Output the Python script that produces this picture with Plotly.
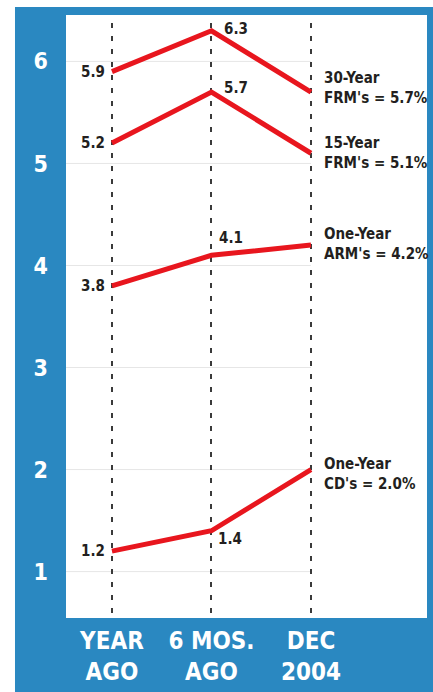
import plotly.graph_objects as go

categories = ["YEAR<br>AGO", "6 MOS.<br>AGO", "DEC<br>2004"]
series_names = ["30-Year<br>FRM's", "15-Year<br>FRM's", "One-Year<br>ARM's", "One-Year<br>CD's"]
frm30 = [5.9, 6.3, 5.7]
frm15 = [5.2, 5.7, 5.1]
arm1 = [3.8, 4.1, 4.2]
cd1 = [1.2, 1.4, 2.0]
y_ticks = [1, 2, 3, 4, 5, 6]

all_series = [frm30, frm15, arm1, cd1]

BLUE = "#2a88c1"
RED = "#e8161e"
TXT = "#231f20"
NARROW = "Liberation Sans Narrow, Arial Narrow, DejaVu Sans Condensed, sans-serif"

x_range = [-0.462, 3.166]
y_range = [0.545, 6.455]

fig = go.Figure()
for name, vals in zip(series_names, all_series):
    fig.add_trace(go.Scatter(
        x=categories, y=vals, mode="lines", name=name.replace("<br>", " "),
        line=dict(color=RED, width=5), showlegend=False, hoverinfo="skip"))

mid_shift = [(11, 2), (11, 4), (6, 17), (5, -8)]
end_shift = [(11, 4), (11, 0), (11, 1), (11, -4)]
lab_font = dict(family=NARROW, size=15, color=TXT, weight="bold")
ann = []
for i, (name, vals) in enumerate(zip(series_names, all_series)):
    ann.append(dict(x=categories[0], y=vals[0], text=f"{vals[0]:.1f}", xanchor="right",
                    yanchor="middle", xshift=-5, showarrow=False, font=lab_font))
    ann.append(dict(x=categories[1], y=vals[1], text=f"{vals[1]:.1f}", xanchor="left",
                    yanchor="middle", xshift=mid_shift[i][0], yshift=mid_shift[i][1],
                    showarrow=False, font=lab_font))
    ann.append(dict(x=categories[2], y=vals[2], text=f"{name} = {vals[2]:.1f}%",
                    xanchor="left", yanchor="middle", align="left",
                    xshift=end_shift[i][0], yshift=end_shift[i][1], showarrow=False,
                    font=lab_font))

shapes = [
    dict(type="rect", xref="paper", yref="paper", x0=-0.1413, x1=1.2, y0=-0.2, y1=1.0131,
         fillcolor=BLUE, line=dict(width=0), layer="below"),
    dict(type="rect", xref="paper", yref="paper", x0=0, x1=1, y0=0, y1=1,
         fillcolor="white", line=dict(width=0), layer="below"),
]
for t in y_ticks:
    shapes.append(dict(type="line", xref="x", yref="y", x0=x_range[0], x1=len(categories) - 1,
                       y0=t, y1=t, line=dict(color="#e6e6e6", width=1), layer="below"))

fig.update_layout(
    width=433, height=692,
    margin=dict(l=66, r=6, t=15, b=67),
    paper_bgcolor="white", plot_bgcolor="rgba(0,0,0,0)",
    shapes=shapes, annotations=ann,
    xaxis=dict(type="category", range=x_range, showgrid=True, gridcolor="#3a3a3a",
               griddash="0px,8px,5px,0px", gridwidth=2, zeroline=False, showline=False,
               ticks="", ticklabelstandoff=6,
               tickfont=dict(family=NARROW, size=24, color="white", weight="bold")),
    yaxis=dict(range=y_range, tickvals=y_ticks, showgrid=False, zeroline=False,
               showline=False, ticks="", ticklabelstandoff=17,
               tickfont=dict(family=NARROW, size=23, color="white", weight="bold")),
)
fig.write_html("out.html")
